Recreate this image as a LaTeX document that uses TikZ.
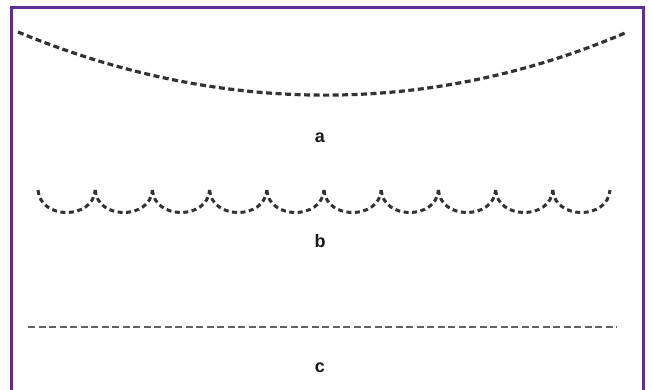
\documentclass[tikz,border=0pt]{standalone}
\usepackage{fontspec}
\setmainfont{Liberation Sans}
\definecolor{framepurple}{RGB}{95,45,150}
\definecolor{dashgray}{RGB}{50,50,50}
\begin{document}
\begin{tikzpicture}[x=1pt,y=-1pt,
  lbl/.style={font=\fontsize{18}{21}\selectfont\bfseries, text=black!90, anchor=base},
  thickdash/.style={dashgray, line width=3.2pt, dash pattern=on 6pt off 3.5pt},
  thindash/.style={black!62, line width=1.6pt, dash pattern=on 7pt off 3.5pt}]
\useasboundingbox (0,0) rectangle (651,390);
\draw[framepurple, line width=3pt] (11,8) rectangle (643,405);
\coordinate (aL) at (18,32);
\coordinate (aR) at (625,33);
\draw[thickdash] (aL) .. controls (220,116) and (430,116) .. (aR);
\node[lbl] (lbla) at (320,143) {a};
\foreach \i in {0,...,9} {
  \draw[thickdash, line width=3pt, dash pattern=on 5pt off 3.5pt]
    ({38+57.2*\i},190) .. controls ({40+57.2*\i},220) and ({93.2+57.2*\i},220) .. ({95.2+57.2*\i},190);
}
\node[lbl] (lblb) at (320,248) {b};
\coordinate (cL) at (28,327);
\coordinate (cR) at (617,327);
\draw[thindash] (cL) -- (cR);
\node[lbl] (lblc) at (320,372) {c};
\end{tikzpicture}
\end{document}
